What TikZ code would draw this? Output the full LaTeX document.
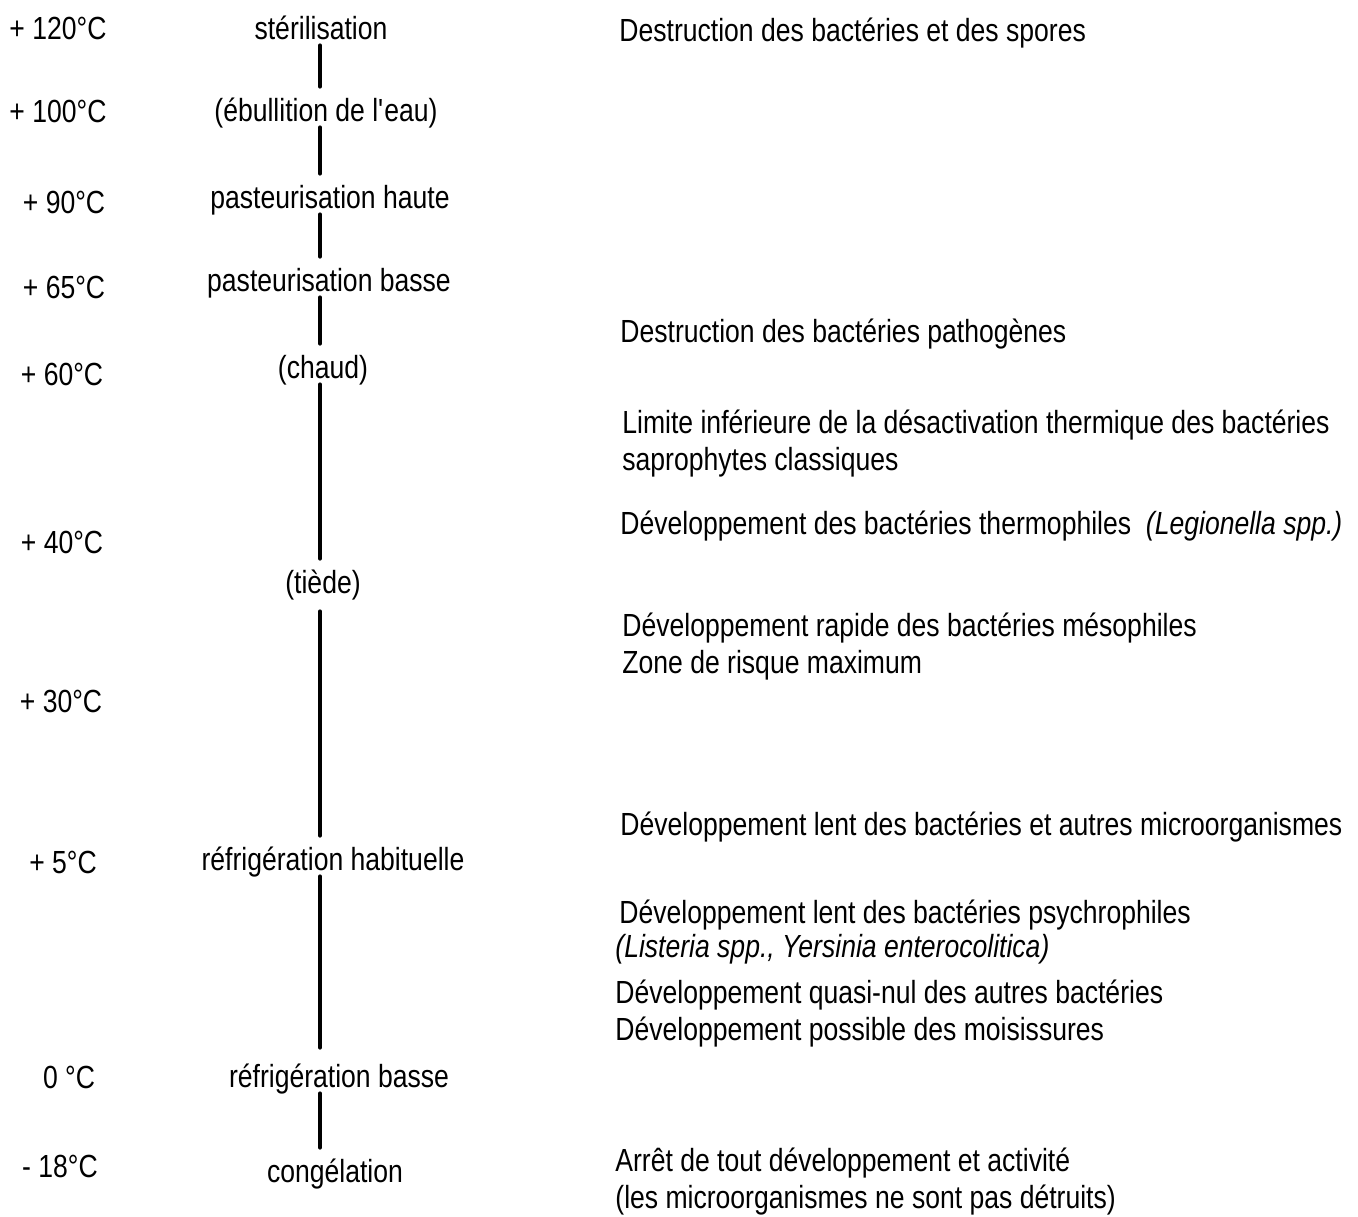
\documentclass[tikz,border=0pt]{standalone}
\usepackage{fontspec}
\setmainfont{Liberation Sans}[FakeStretch=0.83]
\usetikzlibrary{positioning,calc}
\tikzstyle{temp}=[anchor=base,inner sep=0pt]
\tikzstyle{stage}=[anchor=base,inner sep=0pt,text height=11.5pt,text depth=3pt]
\tikzstyle{note}=[anchor=base west,inner sep=0pt,align=left]
\tikzstyle{bar}=[-,draw=Black,line width=2pt,line cap=round,shorten >=5.5pt]
\definecolor{Black}{rgb}{0,0,0}

\begin{document}
\begin{tikzpicture}[x=0.5pt,y=-0.5pt,font=\fontsize{16}{18.5}\selectfont]
    \useasboundingbox (0,0) rectangle (1358,1216);
    \coordinate (axis) at (320,0);

    % temperatures
    \node [temp] (t120) at (58,39) {+ 120°C};
    \node [temp] (t100) at (58,122) {+ 100°C};
    \node [temp] (t90) at (64,213) {+ 90°C};
    \node [temp] (t65) at (64,298) {+ 65°C};
    \node [temp] (t60) at (62,385) {+ 60°C};
    \node [temp] (t40) at (62,553) {+ 40°C};
    \node [temp] (t30) at (61,712) {+ 30°C};
    \node [temp] (t5) at (63,873) {+ 5°C};
    \node [temp] (t0) at (69,1088) {0 °C};
    \node [temp] (tm18) at (60,1177) {- 18°C};

    % stages
    \node [stage] (ster) at (321,39) {stérilisation};
    \node [stage] (ebul) at (326,121) {(ébullition de l\textquotesingle eau)};
    \node [stage] (pasth) at (330,208) {pasteurisation haute};
    \node [stage] (pastb) at (329,291) {pasteurisation basse};
    \node [stage] (chaud) at (323,378) {(chaud)};
    \node [stage] (tiede) at (323,593) {(tiède)};
    \node [stage] (refh) at (333,870) {réfrigération habituelle};
    \node [stage] (refb) at (339,1087) {réfrigération basse};
    \node [stage] (cong) at (335,1182) {congélation};

    \draw [bar] (ster.south -| axis) -- (ebul.north -| axis);
    \draw [bar] (ebul.south -| axis) -- (pasth.north -| axis);
    \draw [bar] (pasth.south -| axis) -- (pastb.north -| axis);
    \draw [bar] (pastb.south -| axis) -- (chaud.north -| axis);
    \draw [bar] (chaud.south -| axis) -- (tiede.north -| axis);
    \draw [bar,shorten <=6pt] (tiede.south -| axis) -- (refh.north -| axis);
    \draw [bar,shorten >=8pt] (refh.south -| axis) -- (refb.north -| axis);
    \draw [bar] (refb.south -| axis) -- (cong.north -| axis);

    % effects
    \node [note] (n1) at (619,41) {Destruction des bactéries et des spores};
    \node [note] (n2) at (620,342) {Destruction des bactéries pathogènes};
    \node [note] (n3) at (622,470) {Limite inférieure de la désactivation thermique des bactéries\\saprophytes classiques};
    \node [note] (n4) at (620,534) {Développement des bactéries thermophiles \ \textit{(Legionella spp.)}};
    \node [note] (n5) at (622,673) {Développement rapide des bactéries mésophiles\\Zone de risque maximum};
    \node [note] (n6) at (620,835) {Développement lent des bactéries et autres microorganismes};
    \node [note] (n7) at (619,923) {Développement lent des bactéries psychrophiles};
    \node [note] (n8) at (615,957) {\textit{(Listeria spp., Yersinia enterocolitica)}};
    \node [note] (n9) at (615,1040) {Développement quasi-nul des autres bactéries\\Développement possible des moisissures};
    \node [note] (n10) at (615,1208) {Arrêt de tout développement et activité\\(les microorganismes ne sont pas détruits)};
\end{tikzpicture}
\end{document}
